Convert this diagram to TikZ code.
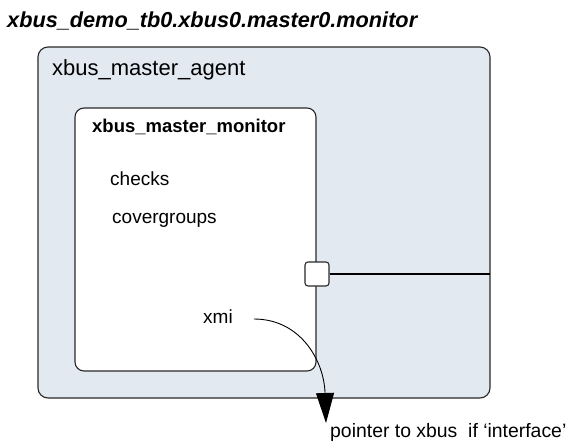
\documentclass[tikz,border=0pt]{standalone}
\usepackage{fontspec}
\setmainfont{Liberation Sans}
\usetikzlibrary{arrows.meta}
\definecolor{agentfill}{RGB}{227,233,241}
\definecolor{edge}{RGB}{40,40,40}
\tikzset{
  box/.style={draw=edge, line width=1.1pt},
  lbl/.style={anchor=base west, inner sep=0pt, font=\fontsize{19}{22}\selectfont},
}
\begin{document}
\begin{tikzpicture}[x=1pt,y=-1pt]
\useasboundingbox (0,0) rectangle (571,440);
\node[anchor=base west, inner sep=0pt, font=\fontsize{21.7}{24}\selectfont\bfseries\itshape] (title) at (7,27) {xbus\_demo\_tb0.xbus0.master0.monitor};
\draw[box, fill=agentfill, rounded corners=10pt] (38,47) rectangle (490,398);
\node[lbl, font=\fontsize{22}{26}\selectfont] (agent) at (52,75) {xbus\_master\_agent};
\draw[box, fill=white, rounded corners=9pt] (75,108) rectangle (316,371);
\node[lbl, font=\fontsize{18.5}{22}\selectfont\bfseries] (mon) at (92,132) {xbus\_master\_monitor};
\node[lbl] (checks) at (110,185) {checks};
\node[lbl] (cov) at (112,223) {covergroups};
\node[lbl] (xmi) at (203,323) {xmi};
\node[draw=edge, line width=1.1pt, fill=white, rounded corners=3pt, minimum width=24pt, minimum height=24pt, inner sep=0pt] (port) at (317,274) {};
\coordinate (busend) at (490,274);
\draw[line width=1.6pt] (port.east) -- (busend);
\coordinate (xs) at (254,319);
\coordinate (tip) at (326,423);
\draw[line width=0.9pt, -{Triangle[length=30pt,width=18pt]}] (xs) .. controls (300,319) and (324,360) .. (tip);
\node[lbl, font=\fontsize{19.4}{22}\selectfont] (ptr) at (330,437) {pointer to xbus\ \ if ‘interface’};
\end{tikzpicture}
\end{document}
